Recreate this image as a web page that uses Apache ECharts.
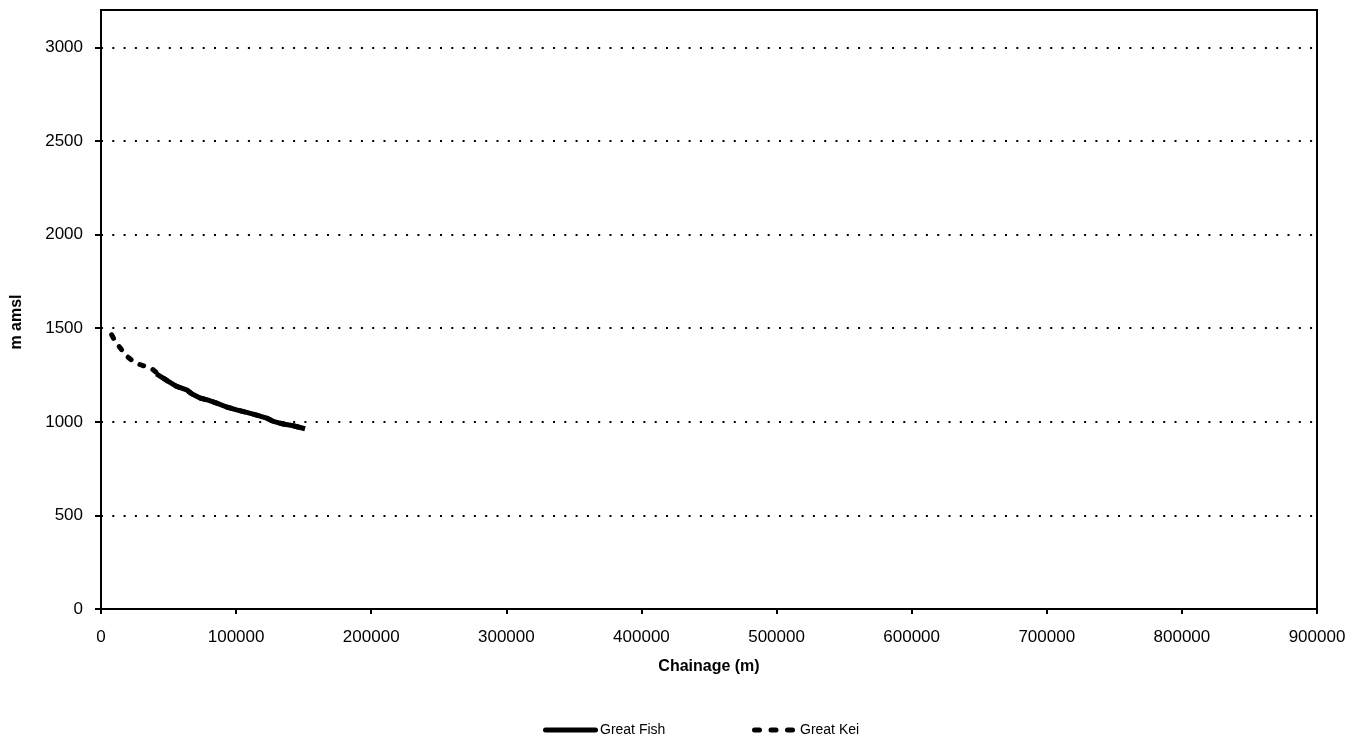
<!DOCTYPE html>
<html>
<head>
<meta charset="utf-8">
<script src="https://cdn.jsdelivr.net/npm/echarts@6/dist/echarts.min.js"></script>
<style>html,body{margin:0;padding:0;background:#fff;}#c{width:1365px;height:738px;}</style>
</head>
<body>
<div id="c"></div>
<script>
const seriesNames = ['Great Fish', 'Great Kei'];
const greatFishX = [41000, 49800, 56000, 63400, 67100, 73300, 78200, 85600, 93000, 100400, 107800, 115200, 122600, 127600, 135000, 142300, 151000];
const greatFishY = [1256, 1216, 1189, 1171, 1150, 1127, 1118, 1100, 1079, 1064, 1050, 1036, 1020, 1002, 988, 979, 963];
const greatKeiX = [7900, 10400, 15300, 17800, 23900, 27600, 35000, 38700, 43700, 49800, 56000, 63400, 67100, 73300, 78200, 85600, 93000, 100400, 107800, 115200, 122600, 127600, 135000, 142300, 151000];
const greatKeiY = [1465, 1430, 1385, 1358, 1323, 1309, 1291, 1278, 1246, 1216, 1189, 1171, 1150, 1127, 1118, 1100, 1079, 1064, 1050, 1036, 1020, 1002, 988, 979, 963];
const xTitle = 'Chainage (m)';
const yTitle = 'm amsl';

const font = 'Liberation Sans, Arial, sans-serif';
const chart = echarts.init(document.getElementById('c'));
const zip = (xs, ys) => xs.map((x, i) => [x, ys[i]]);
const capsule = x0 => `M${x0 + 2.5},0 h5 a2.5,2.5 0 0 1 0,5 h-5 a2.5,2.5 0 0 1 0,-5 z`;
const dashIcon = 'path://' + capsule(0) + ' ' + capsule(16.5) + ' ' + capsule(33);
const solidIcon = 'path://M2.5,0 h50 a2.5,2.5 0 0 1 0,5 h-50 a2.5,2.5 0 0 1 0,-5 z';
const legendText = { fontFamily: font, fontSize: 14, color: '#000' };
chart.setOption({
  animation: false,
  backgroundColor: '#fff',
  grid: { left: 101, right: 48, top: 10, bottom: 129, show: false },
  xAxis: {
    type: 'value', min: 0, max: 900000, interval: 100000,
    name: xTitle, nameLocation: 'middle', nameGap: 50,
    nameTextStyle: { fontFamily: font, fontSize: 16, fontWeight: 'bold', color: '#000' },
    axisLine: { show: true, onZero: false, lineStyle: { color: '#000', width: 2 } },
    axisTick: { show: true, length: 5, lineStyle: { color: '#000', width: 2 } },
    axisLabel: { fontFamily: font, fontSize: 17, color: '#000', margin: 20, formatter: v => String(v) },
    splitLine: { show: false }
  },
  yAxis: {
    type: 'value', min: 0, max: 3200, interval: 500,
    axisLine: { show: true, lineStyle: { color: '#000', width: 2 } },
    axisTick: { show: true, length: 6, lineStyle: { color: '#000', width: 2 } },
    axisLabel: { fontFamily: font, fontSize: 17, color: '#000', margin: 18, showMaxLabel: false,
      formatter: v => (v % 500 === 0 ? String(v) : '') },
    splitLine: { show: true, lineStyle: { color: '#000', width: 2, type: [2, 9.3] } }
  },
  legend: [
    { top: 723, left: 543, padding: 0, itemWidth: 55, itemHeight: 5, itemGap: 0,
      textStyle: Object.assign({ padding: [0, 0, 0, -3] }, legendText),
      data: [{ name: seriesNames[0], icon: solidIcon }] },
    { top: 723, left: 752, padding: 0, itemWidth: 43, itemHeight: 5, itemGap: 0,
      textStyle: legendText,
      data: [{ name: seriesNames[1], icon: dashIcon }] }
  ],
  graphic: [
    { type: 'rect', z: 100, silent: true,
      shape: { x: 101, y: 10, width: 1216, height: 599 },
      style: { fill: 'none', stroke: '#000', lineWidth: 2 } },
    { type: 'text', z: 100, silent: true, x: 17, y: 322, rotation: Math.PI / 2,
      style: { text: yTitle, fontFamily: font, fontSize: 16, fontWeight: 'bold', fill: '#000',
        align: 'center', verticalAlign: 'middle' } }
  ],
  series: [
    {
      name: seriesNames[1], type: 'line', symbol: 'none', showSymbol: false,
      data: zip(greatKeiX, greatKeiY), z: 3,
      lineStyle: { color: '#000', width: 5, type: [4, 10], cap: 'round' },
      itemStyle: { color: '#000' }
    },
    {
      name: seriesNames[0], type: 'line', symbol: 'none', showSymbol: false,
      data: zip(greatFishX, greatFishY), z: 4,
      lineStyle: { color: '#000', width: 5, type: 'solid' },
      itemStyle: { color: '#000' }
    }
  ]
});
</script>
</body>
</html>
